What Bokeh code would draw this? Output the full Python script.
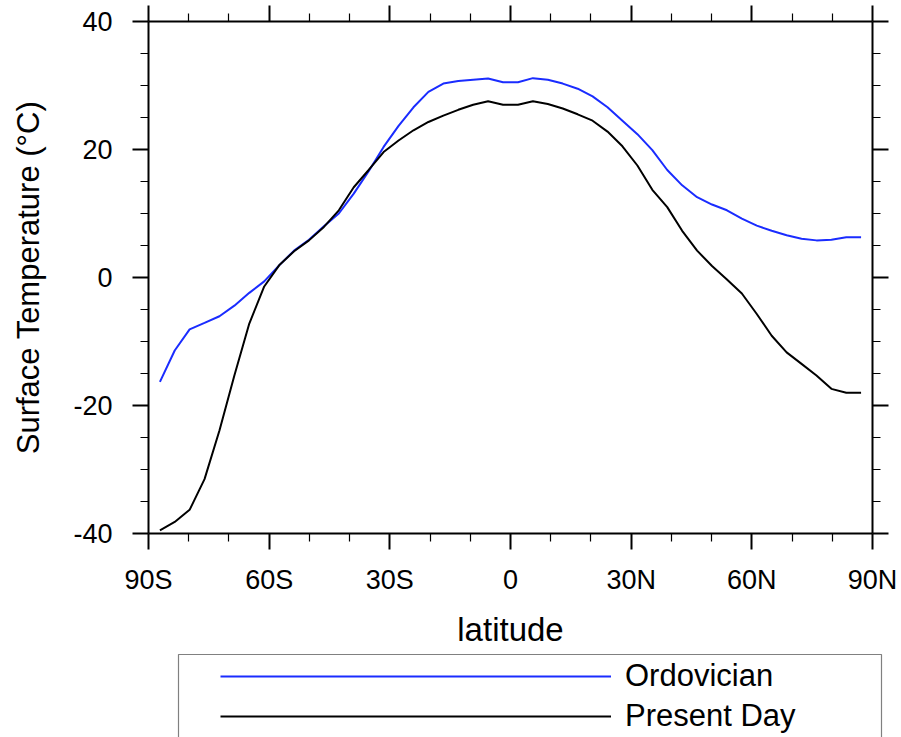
from bokeh.plotting import figure
from bokeh.models import (Range1d, FixedTicker, LinearAxis, Legend, LegendItem,
                          BoxAnnotation)
from bokeh.embed import file_html
from bokeh.resources import INLINE

# ---------------- data ----------------
lat = [-87.16, -83.48, -79.78, -76.07, -72.36, -68.65, -64.94, -61.23, -57.52, -53.81,
       -50.10, -46.39, -42.68, -38.97, -35.26, -31.55, -27.83, -24.12, -20.41, -16.70,
       -12.99, -9.28, -5.57, -1.86, 1.86, 5.57, 9.28, 12.99, 16.70, 20.41,
       24.12, 27.83, 31.55, 35.26, 38.97, 42.68, 46.39, 50.10, 53.81, 57.52,
       61.23, 64.94, 68.65, 72.36, 76.07, 79.78, 83.48, 87.16]

ordovician = [-16.3, -11.4, -8.1, -7.1, -6.05, -4.4, -2.4, -0.6, 1.9, 4.2,
              5.9, 8.0, 10.0, 13.1, 16.6, 20.4, 23.7, 26.6, 29.0, 30.3,
              30.7, 30.9, 31.1, 30.5, 30.5, 31.15, 30.9, 30.3, 29.5, 28.3,
              26.6, 24.5, 22.4, 19.9, 16.8, 14.4, 12.55, 11.4, 10.5, 9.2,
              8.1, 7.3, 6.6, 6.05, 5.8, 5.9, 6.3, 6.3]

present_day = [-39.5, -38.2, -36.3, -31.5, -23.9, -15.3, -7.2, -1.4, 1.9, 4.1,
               5.8, 7.9, 10.5, 14.1, 16.8, 19.6, 21.4, 23.0, 24.3, 25.3,
               26.2, 27.0, 27.55, 27.0, 27.0, 27.55, 27.1, 26.4, 25.5, 24.5,
               22.8, 20.5, 17.5, 13.7, 11.0, 7.3, 4.2, 1.8, -0.3, -2.5,
               -5.7, -9.1, -11.7, -13.5, -15.3, -17.4, -18.0, -18.0]

lat_ticks = [-90, -60, -30, 0, 30, 60, 90]
lat_labels = ["90S", "60S", "30S", "0", "30N", "60N", "90N"]
lat_minor = [-80, -70, -50, -40, -20, -10, 10, 20, 40, 50, 70, 80]
temp_ticks = [-40, -20, 0, 20, 40]
temp_labels = ["-40", "-20", "0", "20", "40"]
temp_minor = [-35, -30, -25, -15, -10, -5, 5, 10, 15, 25, 30, 35]

series_names = ["Ordovician", "Present Day"]
series_colors = ["#1a2cff", "black"]

FONT = "Liberation Sans"

# ---------------- layout (pixels) ----------------
W, H = 901, 737
BOX_L, BOX_R, BOX_T, BOX_B = 148, 872, 21, 533   # axes box on the canvas
X0, X1, Y0, Y1 = -90, 90, -40, 40               # axes box in data units
sx = (X1 - X0) / (BOX_R - BOX_L)
sy = (Y1 - Y0) / (BOX_B - BOX_T)
x_range = Range1d(X0 - BOX_L * sx, X1 + (W - BOX_R) * sx)
y_range = Range1d(Y0 - (H - BOX_B) * sy, Y1 + BOX_T * sy)

p = figure(width=W, height=H, output_backend="svg", toolbar_location=None,
           x_range=x_range, y_range=y_range,
           min_border=0, min_border_left=0, min_border_right=0,
           min_border_top=0, min_border_bottom=0,
           x_axis_label="latitude",
           y_axis_label="Surface Temperature (\u00b0C)")
p.outline_line_color = None
p.grid.visible = False
p.background_fill_color = "white"
p.border_fill_color = "white"

xt = FixedTicker(ticks=lat_ticks, minor_ticks=lat_minor)
yt = FixedTicker(ticks=temp_ticks, minor_ticks=temp_minor)


def style_axis(ax):
    ax.axis_line_color = "black"
    ax.axis_line_width = 2
    ax.major_tick_line_color = "black"
    ax.major_tick_line_width = 2
    ax.minor_tick_line_color = "black"
    ax.minor_tick_line_width = 1.2
    ax.major_tick_in = 0
    ax.minor_tick_in = 0
    ax.major_tick_out = 16
    ax.minor_tick_out = 8
    ax.major_label_text_font = FONT
    ax.major_label_text_color = "black"
    ax.axis_label_text_font = FONT
    ax.axis_label_text_font_style = "normal"
    ax.axis_label_text_color = "black"


# bottom axis
bx = p.xaxis[0]
bx.ticker = xt
bx.fixed_location = Y0
bx.bounds = (X0, X1)
bx.major_label_overrides = dict(zip(lat_ticks, lat_labels))
style_axis(bx)
bx.major_label_text_font_size = "27px"
bx.major_label_standoff = 15
bx.axis_label_text_font_size = "33px"
bx.axis_label_standoff = 13

# left axis
ly = p.yaxis[0]
ly.ticker = yt
ly.fixed_location = X0
ly.bounds = (Y0, Y1)
ly.major_label_overrides = dict(zip(temp_ticks, temp_labels))
style_axis(ly)
ly.major_label_text_font_size = "27px"
ly.major_label_standoff = 20
ly.axis_label_text_font_size = "31px"
ly.axis_label_standoff = 24

# top and right axes (ticks only, no labels)
tx = LinearAxis(ticker=xt, fixed_location=Y1, bounds=(X0, X1))
style_axis(tx)
tx.major_label_overrides = {t: "" for t in lat_ticks}
tx.major_label_text_font_size = "0px"
tx.major_label_standoff = 0
p.add_layout(tx, "above")

ry = LinearAxis(ticker=yt, fixed_location=X1, bounds=(Y0, Y1))
style_axis(ry)
ry.major_label_overrides = {t: "" for t in temp_ticks}
ry.major_label_text_font_size = "0px"
ry.major_label_standoff = 0
p.add_layout(ry, "right")

r1 = p.line(lat, ordovician, line_color=series_colors[0], line_width=2)
r2 = p.line(lat, present_day, line_color=series_colors[1], line_width=2)

legend = Legend(items=[LegendItem(label=series_names[0], renderers=[r1]),
                       LegendItem(label=series_names[1], renderers=[r2])],
                location=(220, 3), orientation="vertical",
                padding=4, margin=0, spacing=4,
                glyph_width=391, glyph_height=36, label_height=36,
                label_standoff=14,
                label_text_font=FONT, label_text_font_size="31px",
                label_text_color="black",
                border_line_color=None, background_fill_alpha=0)
p.add_layout(legend, "center")

# legend frame
frame_box = BoxAnnotation(left=178, right=881, top=654, bottom=H + 20,
                          left_units="canvas", right_units="canvas",
                          top_units="canvas", bottom_units="canvas",
                          fill_alpha=0, line_color="#808080", line_width=1.2,
                          line_alpha=1)
p.add_layout(frame_box)

open("out.html", "w").write(file_html(p, INLINE))
